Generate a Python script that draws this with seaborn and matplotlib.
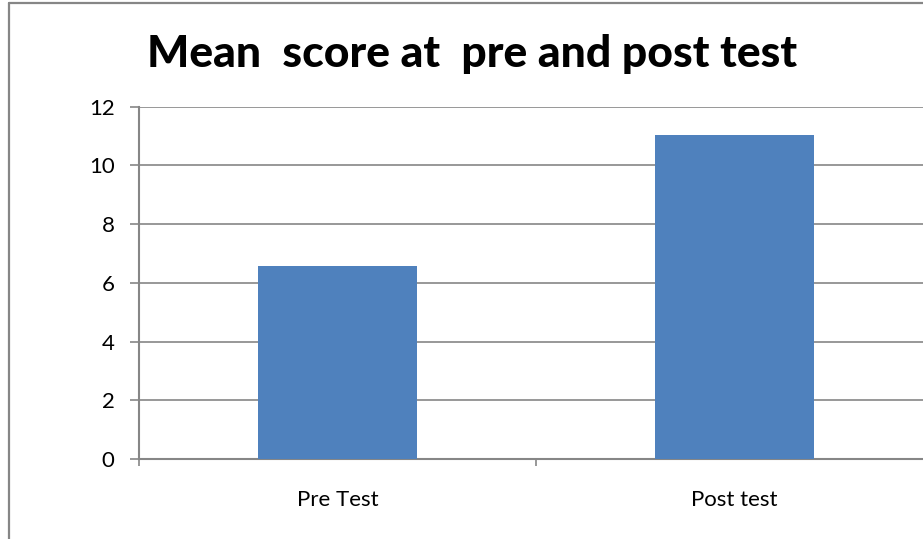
import matplotlib
matplotlib.use("Agg")
import matplotlib.pyplot as plt
import seaborn as sns
from matplotlib.lines import Line2D

# Mean score at pre and post test
tests = ["Pre Test", "Post test"]
mean_scores = [6.57, 11.04]
y_ticks = [0, 2, 4, 6, 8, 10, 12]

sns.set_style("white")
plt.rcParams["font.family"] = ["Lato", "DejaVu Sans"]

grey = "#868686"

fig = plt.figure(figsize=(9.23, 5.39), dpi=100)
ax = fig.add_axes([139 / 923, 1 - 459 / 539, 794 / 923, (459 - 106.7) / 539])

sns.barplot(x=tests, y=mean_scores, color="#4F81BD", width=0.4, saturation=1,
            linewidth=0, ax=ax, zorder=3)

ax.set_xlim(-0.5, 1.5)
ax.set_ylim(0, 12)
ax.set_yticks(y_ticks)
ax.set_yticklabels([str(t) for t in y_ticks], fontsize=16, color="black")
ax.set_xticklabels(tests, fontsize=16, color="black")
ax.set_xlabel("")
ax.set_ylabel("")

# gridlines
ax.yaxis.grid(True, color=grey, linewidth=1.2, zorder=0)
ax.set_axisbelow(True)

# axes lines & ticks
for side in ["top", "right"]:
    ax.spines[side].set_visible(False)
for side in ["left", "bottom"]:
    ax.spines[side].set_color(grey)
    ax.spines[side].set_linewidth(1.5)

ax.tick_params(axis="y", left=True, length=6.5, width=1.2, color=grey, pad=11)
ax.tick_params(axis="x", which="major", bottom=False, length=0, pad=22)
ax.set_xticks([-0.5, 0.5, 1.5], minor=True)
ax.tick_params(axis="x", which="minor", bottom=True, length=5, width=1.2, color=grey)

fig.suptitle("Mean  score at  pre and post test", fontsize=32, fontweight="black",
             color="black", x=472 / 923, y=1 - 54 / 539, va="center")

# outer chart border (left and top visible)
fig.add_artist(Line2D([8.5 / 923, 8.5 / 923], [0, 1 - 2.5 / 539], transform=fig.transFigure,
                      color=grey, linewidth=1.6))
fig.add_artist(Line2D([8.5 / 923, 1], [1 - 2.5 / 539, 1 - 2.5 / 539], transform=fig.transFigure,
                      color=grey, linewidth=1.6))

fig.savefig("out.png", dpi=100)
